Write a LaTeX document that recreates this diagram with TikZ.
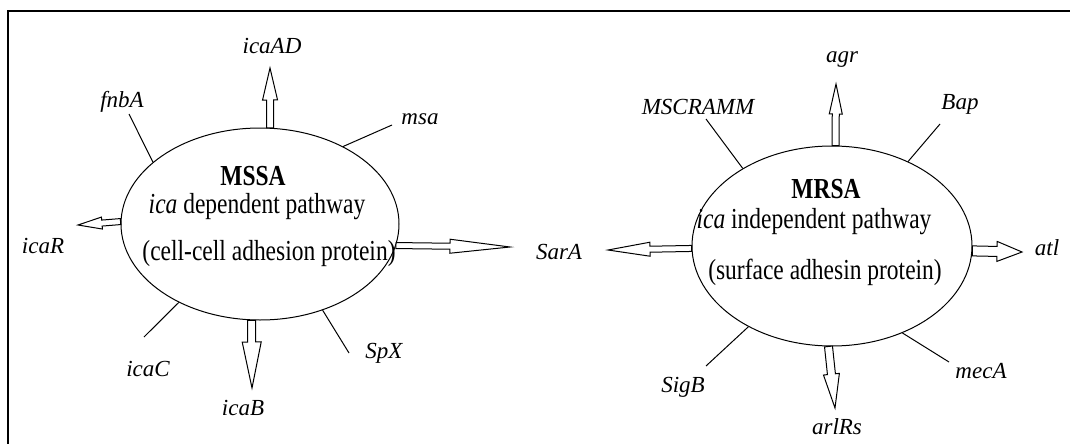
\documentclass[tikz,border=0pt]{standalone}
\usepackage{fontspec}
\setmainfont{Liberation Serif}
\newfontfamily\ellfont[FakeStretch=0.81]{Liberation Serif}
\usetikzlibrary{shapes.geometric,calc}
\tikzset{
  sw/.store in=\arrsw, hw/.store in=\arrhw, hl/.store in=\arrhl,
  sw=3.5pt, hw=7pt, hl=30pt,
  fat/.style={line width=1pt, fill=white, line join=miter,
    to path={let \p1=(\tikztostart), \p2=(\tikztotarget),
      \n1={veclen(\x2-\x1,\y2-\y1)}, \n2={(\x2-\x1)/\n1}, \n3={(\y2-\y1)/\n1},
      \p4=({\x2-(\n2)*\arrhl},{\y2-(\n3)*\arrhl}) in
      ({\x1-(\n3)*\arrsw},{\y1+(\n2)*\arrsw}) -- ({\x4-(\n3)*\arrsw},{\y4+(\n2)*\arrsw})
      -- ({\x4-(\n3)*\arrhw},{\y4+(\n2)*\arrhw}) -- (\p2)
      -- ({\x4+(\n3)*\arrhw},{\y4-(\n2)*\arrhw}) -- ({\x4+(\n3)*\arrsw},{\y4-(\n2)*\arrsw})
      -- ({\x1+(\n3)*\arrsw},{\y1-(\n2)*\arrsw}) -- cycle}},
  lab/.style={anchor=base, inner sep=0pt, font=\fontsize{23}{25}\selectfont\itshape},
  etxt/.style={anchor=base, inner sep=0pt, font=\ellfont\fontsize{29}{31}\selectfont},
  oval/.style={ellipse, draw, line width=1pt, inner sep=0pt},
  conn/.style={line width=1pt}
}
\begin{document}
\begin{tikzpicture}[x=1pt,y=-1pt]
\useasboundingbox (0,0) rectangle (1070,444);
\draw[line width=1.2pt] (8,444) -- (8,11) -- (1070,11);

% ---------- left ellipse ----------
\node[oval, minimum width=278pt, minimum height=192pt] (L) at (260,224) {};
\node[etxt] (mssa) at (253,185) {\textbf{MSSA}};
\node[etxt] (dep) at (257,213) {\textit{ica} dependent pathway};
\node[etxt] (cca) at (269,260) {(cell-cell adhesion protein)};

\node[lab] (icaAD) at (272,53) {icaAD};
\node[lab] (fnbA) at (122,107) {fnbA};
\node[lab] (msa) at (420,124) {msa};
\node[lab] (icaR) at (43,253) {icaR};
\node[lab] (SarA) at (559,259) {SarA};
\node[lab] (icaC) at (148,376) {icaC};
\node[lab] (icaB) at (243,415) {icaB};
\node[lab] (SpX) at (384,358) {SpX};

\coordinate (tAD) at (270,68);
\coordinate (tR) at (78,225);
\coordinate (tSL) at (510,247);
\coordinate (tB) at (252,388);
\coordinate (eF) at (129,114);
\coordinate (eM) at (392,125);
\coordinate (eC) at (144,337);
\coordinate (eS) at (349,353);

\draw[fat, sw=3.5pt, hw=7.5pt, hl=32pt] (L.84) to (tAD);
\draw[fat, sw=3pt, hw=6pt, hl=24pt] (L.179.6) to (tR);
\draw[fat, sw=3pt, hw=7pt, hl=60pt] (L.-9.7) to (tSL);
\draw[fat, sw=4pt, hw=9.5pt, hl=46pt] (L.265.2) to (tB);
\draw[conn] (L.150.8) -- (eF);
\draw[conn] (L.43.6) -- (eM);
\draw[conn] (L.-136.3) -- (eC);
\draw[conn] (L.-54.9) -- (eS);

% ---------- right ellipse ----------
\node[oval, minimum width=280pt, minimum height=200pt] (R) at (832,246) {};
\node[etxt] (mrsa) at (826,198) {\textbf{MRSA}};
\node[etxt] (indep) at (814,228) {\textit{ica} independent pathway};
\node[etxt] (sap) at (825,279) {(surface adhesin protein)};

\node[lab] (MSCRAMM) at (698,114) {MSCRAMM};
\node[lab] (agr) at (842,63) {agr};
\node[lab] (Bap) at (960,109) {Bap};
\node[lab] (atl) at (1047,255) {atl};
\node[lab] (mecA) at (981,378) {mecA};
\node[lab] (SigB) at (683,392) {SigB};
\node[lab] (arlRs) at (837,434) {arlRs};

\coordinate (tG) at (836,84);
\coordinate (tSR) at (608,250);
\coordinate (tT) at (1022,252);
\coordinate (tA) at (835,408);
\coordinate (eMS) at (706,119);
\coordinate (eBa) at (940,124);
\coordinate (eSi) at (706,366);
\coordinate (eMe) at (949,362);

\draw[fat, sw=3.5pt, hw=6.5pt, hl=30pt] (R.88) to (tG);
\draw[fat, sw=3pt, hw=7pt, hl=42pt] (R.181.6) to (tSR);
\draw[fat, sw=5pt, hw=10pt, hl=25pt] (R.-2.5) to (tT);
\draw[fat, sw=4pt, hw=8pt, hl=34pt] (R.268.5) to (tA);
\draw[conn] (R.139.2) -- (eMS);
\draw[conn] (R.48.5) -- (eBa);
\draw[conn] (R.-136.7) -- (eSi);
\draw[conn] (R.-51.2) -- (eMe);
\end{tikzpicture}
\end{document}
